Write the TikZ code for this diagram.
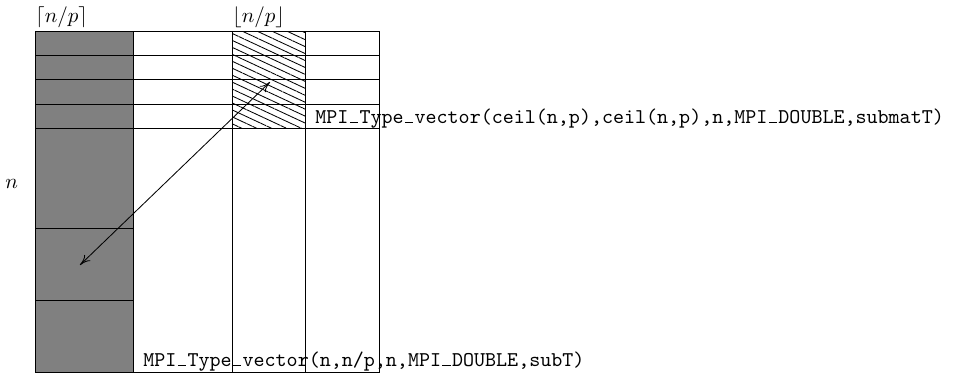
\documentclass[tikz,border=0pt]{standalone}
\usetikzlibrary{patterns.meta,arrows.meta}
% typewriter underscore drawn as a short bar on the baseline
\newcommand\ttus{\makebox[0.525em][c]{\rule{0.4em}{0.6pt}}}
\begin{document}
\begin{tikzpicture}[x=0.4762pt,y=-0.4762pt,
  cell/.style={draw=black,line width=0.4pt},
  hatch/.style={cell,pattern={Lines[angle=-25,distance=3pt,line width=0.4pt]}},
  lbl/.style={inner sep=0pt,anchor=base west},
  code/.style={lbl,font=\ttfamily},
  link/.style={{To[length=5pt,width=4pt]}-{To[length=5pt,width=4pt]},line width=0.4pt}]
\useasboundingbox (0,0) rectangle (956,377);
% distributed block column of the matrix
\fill[gray] (35,31) rectangle (133,372);
\foreach \ya/\yb in {31/55,55/79,79/104,104/128,128/228,228/300,300/372}
  \draw[cell] (35,\ya) rectangle (133,\yb);
% remaining columns
\draw[cell] (133,31) rectangle (232,372);
\draw[cell] (232,31) rectangle (305,372);
\draw[cell] (305,31) rectangle (379,372);
\foreach \ya/\yb in {31/55,55/79,79/104,104/128}{
  \draw[cell] (133,\ya) rectangle (232,\yb);
  \draw[cell] (305,\ya) rectangle (379,\yb);
}
% transposed sub-block
\draw[hatch] (232,31) rectangle (305,128);
\foreach \y in {55,79,104}
  \draw[cell] (232,\y) -- (305,\y);
% labels
\node[lbl] (ceil) at (35,22) {$\lceil n/p\rceil$};
\node[lbl] (floor) at (232,22) {$\lfloor n/p\rfloor$};
\node[lbl] (nn) at (5,188) {$n$};
\node[code] (subm) at (315,123) {MPI\ttus Type\ttus vector(ceil(n,p),ceil(n,p),n,MPI\ttus DOUBLE,submatT)};
\node[code] (subt) at (143,366) {MPI\ttus Type\ttus vector(n,n/p,n,MPI\ttus DOUBLE,subT)};
% exchange arrow
\coordinate (src) at (270,82);
\coordinate (dst) at (80,265);
\draw[link] (src) -- (dst);
\end{tikzpicture}
\end{document}
